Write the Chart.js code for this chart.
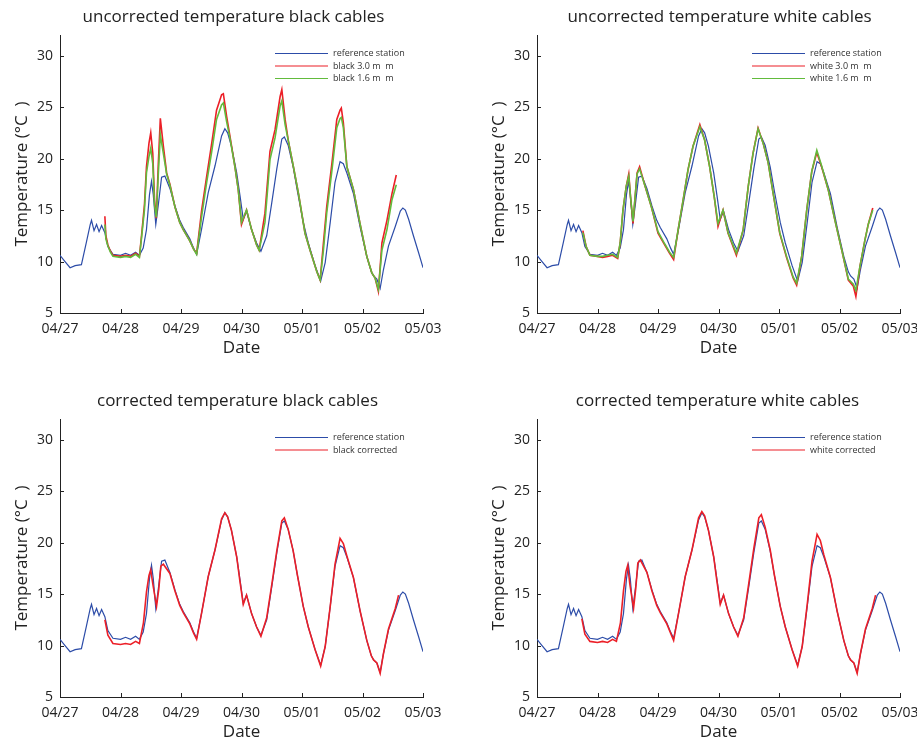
<!DOCTYPE html>
<html>
<head>
<meta charset="utf-8">
<script src="https://cdn.jsdelivr.net/npm/chart.js@4/dist/chart.umd.min.js"></script>
<style>
html,body{margin:0;padding:0;background:#fff;overflow:hidden;width:917px;height:742px;}
canvas{position:absolute;}
</style>
</head>
<body>
<canvas id="c1" width="458" height="371" style="left:0;top:0"></canvas>
<canvas id="c2" width="440" height="371" style="left:477px;top:0"></canvas>
<canvas id="c3" width="458" height="371" style="left:0;top:384px"></canvas>
<canvas id="c4" width="440" height="371" style="left:477px;top:384px"></canvas>
<script>
// ---- data (hours since 04/27 00:00, temperature in °C) ----
const tickLabels = ['04/27','04/28','04/29','04/30','05/01','05/02','05/03'];
const xTickHours = [0,24,48,72,96,120,144];
const yTickValues = [5,10,15,20,25,30];

const refHours = [0,2,4,6,8.5,10.5,12,12.5,13.5,14.5,15.5,16.5,17.8,19,21,24,26,28,30,31.5,33,34.3,35.5,36.3,37,38,39,40.3,41.6,43.6,45.6,47.5,48.9,51.5,53,54.2,56.2,58.8,61.5,64.1,65.4,66.5,68,70.1,71.4,72.7,74,76,78,79.7,82,84,86,88,89,90.5,92.5,94.2,96.5,98.5,101.2,103.4,105.2,107.2,109.1,111.1,112.4,113.8,116.4,119.1,121.7,123.5,124.4,125.7,127,128.3,130.3,133,135,136,137,138.3,140.2,142.2,144];
const refTemp = [10.6,10.0,9.4,9.6,9.7,11.9,13.6,14.0,13.0,13.6,12.9,13.5,12.8,11.45,10.7,10.6,10.8,10.6,10.9,10.6,11.3,13.1,16.5,17.8,16.5,13.6,15.5,18.2,18.3,17.1,15.4,14.0,13.3,12.2,11.3,10.7,13.2,16.7,19.3,22.2,22.9,22.5,21.2,18.6,16.4,14.1,14.9,13.1,11.8,11.0,12.5,15.7,19.0,21.9,22.1,21.3,19.2,16.8,13.8,11.8,9.6,8.1,9.9,13.8,17.7,19.7,19.5,18.6,16.6,13.3,10.5,9.0,8.6,8.3,7.4,9.2,11.5,13.4,14.9,15.2,15.0,14.1,12.5,10.9,9.4];

const blackHours = [17.8,18.2,19,20,21,24,26,28,30,31.5,32.3,33.5,34.3,35.3,36,36.8,37.5,38.2,39,39.8,41,42.3,43.6,45.6,47.5,48.9,51.5,53,54.2,56.2,58.2,60.2,62.1,64.1,64.8,66.1,67.4,69.4,70.7,72,74,76,78,79,81.3,83.3,85.3,87.3,88,89.3,90.6,92.6,94.6,97.2,99.2,101.9,103.2,104.5,105.8,107.9,109.8,111.1,111.6,112.4,113.8,116.4,119,121.7,123.7,125,126.3,127.7,129.7,131.7,133.4];
const black30 = [14.4,12.5,11.6,11.0,10.6,10.5,10.6,10.5,10.8,10.5,12.4,15.5,19.2,21.5,22.5,20.5,16.0,14.2,19.5,23.9,21.2,18.6,17.5,15.3,13.8,13.1,12.0,11.2,10.8,15.0,18.3,21.5,24.7,26.2,26.3,24.1,22.2,19.2,17.0,13.6,15.0,13.1,11.6,11.1,14.7,20.7,22.8,26.0,26.7,23.8,21.7,19.2,16.6,12.75,11.1,9.0,8.2,11.8,15.3,19.6,23.8,24.7,24.9,23.5,19.2,17.0,13.7,10.5,8.9,8.4,7.1,11.8,14.0,16.6,18.4];
const black16 = [13.6,12.2,11.5,10.9,10.5,10.4,10.5,10.4,10.7,10.4,12.2,15.0,18.6,20.2,21.0,19.5,15.5,14.3,18.5,22.3,20.5,18.5,17.4,15.3,13.8,13.1,12.0,11.2,10.7,14.4,17.7,20.7,23.8,25.2,25.4,23.6,22.0,19.2,17.0,13.8,15.0,13.1,11.6,11.1,13.8,19.9,22.0,25.1,25.6,23.3,21.7,19.2,16.6,12.75,11.1,9.0,8.2,11.1,14.7,18.9,23.0,23.9,24.0,23.0,19.2,17.0,13.7,10.5,8.9,8.4,7.3,11.1,13.1,16.0,17.45];

const whiteHours = [18.2,19.5,21,24,26,28,30,32,33,34.1,35.4,36.4,37.2,38.1,39,39.7,40.7,42.7,45.4,48,50.7,52.6,54.2,56,58,59.9,61.9,64.6,66.5,68.5,70.3,71.8,73.8,75.8,79.1,81.8,83.8,85.7,87.7,89.7,91.7,93.7,96.3,99,101.6,103,105,107,109,111,112.9,115.5,118.2,120.9,123.5,125.5,126.5,128.1,130.1,131.4,133.2];
const white30 = [13.0,11.45,10.6,10.5,10.4,10.5,10.6,10.3,11.8,15.0,17.3,18.5,16.0,13.7,16.5,18.6,19.2,17.45,15.3,12.75,11.6,10.8,10.2,13.1,16.0,18.9,21.2,23.3,21.8,19.2,16.3,13.4,15.0,12.75,10.6,13.1,17.3,20.5,22.95,21.5,19.6,16.6,12.75,10.4,8.4,7.7,10.5,15.0,18.75,20.6,19.2,17.0,14.0,11.1,8.2,7.6,6.6,9.5,12.1,13.6,15.2];
const white16 = [12.8,11.45,10.6,10.5,10.5,10.6,10.7,10.4,11.8,15.0,17.3,18.3,16.0,13.9,16.5,18.5,19.0,17.45,15.3,12.9,11.7,10.9,10.4,13.1,16.0,18.9,21.2,23.1,21.8,19.2,16.3,13.7,15.0,12.8,10.8,13.1,17.3,20.5,22.9,21.5,19.6,16.6,12.8,10.5,8.5,7.9,10.5,15.0,18.75,20.8,19.3,17.0,14.0,11.1,8.3,7.8,7.2,9.5,12.1,13.6,15.0];

const corrHours = [17.8,19,21,24,26,28,30,31.5,33.1,34.3,35.3,36,36.8,38.3,39.2,40,41,43.6,45.6,47.5,48.9,51.5,53,54.2,56.2,58.8,61.5,64.1,65.4,66.5,68,70.1,71.4,72.7,74,76,78,79.7,82,84,86,88,89,90.5,92.5,94.2,96.5,98.5,101.2,103.4,105.2,107.2,109.1,111.1,112.4,113.8,116.4,119.1,121.7,123.5,124.4,125.7,127,128.3,130.3,133,134.3];
const blackCorr = [12.5,11.0,10.2,10.1,10.2,10.1,10.4,10.2,12.2,15.2,16.8,17.35,16.0,13.8,15.5,17.7,17.9,17.0,15.3,13.9,13.2,12.1,11.2,10.6,13.2,16.7,19.3,22.3,22.9,22.5,21.2,18.6,16.2,14.0,14.9,13.1,11.8,10.9,12.7,15.9,19.2,22.1,22.4,21.3,19.2,16.8,13.8,11.8,9.6,8.0,9.9,13.8,17.9,20.4,19.9,18.7,16.6,13.3,10.5,9.0,8.6,8.3,7.3,9.2,11.6,13.6,14.9];
const whiteCorr = [12.6,11.1,10.4,10.3,10.4,10.3,10.6,10.4,12.2,15.3,17.2,17.8,16.0,13.6,15.6,18.0,18.3,17.1,15.3,13.9,13.2,12.1,11.2,10.5,13.2,16.7,19.3,22.4,23.0,22.6,21.2,18.6,16.2,14.0,14.9,13.1,11.8,10.9,12.7,16.0,19.4,22.4,22.7,21.5,19.3,16.8,13.8,11.8,9.6,8.0,9.9,14.0,18.2,20.8,20.2,18.8,16.6,13.3,10.5,9.0,8.6,8.3,7.3,9.2,11.6,13.6,14.9];

// ---- styling ----
const BLUE = '#2c4ca8', RED = '#ec1f27', GREEN = '#62bb3c', AXIS = '#222222';
const FONT = "'Open Sans', 'DejaVu Sans', sans-serif";

function pts(xs, ys){ return xs.map((x,i)=>({x:x, y:ys[i]})); }

const panels = [
  {id:'c1', padRight:35, titleShift:-8, title:'uncorrected temperature black cables', series:[
    ['reference station', refHours, refTemp, BLUE],
    ['black 3.0 m\u00A0\u00A0m', blackHours, black30, RED],
    ['black 1.6 m\u00A0\u00A0m', blackHours, black16, GREEN]]},
  {id:'c2', padRight:17, titleShift:1, title:'uncorrected temperature white cables', series:[
    ['reference station', refHours, refTemp, BLUE],
    ['white 3.0 m\u00A0\u00A0m', whiteHours, white30, RED],
    ['white 1.6 m\u00A0\u00A0m', whiteHours, white16, GREEN]]},
  {id:'c3', padRight:35, titleShift:-4, title:'corrected temperature black cables', series:[
    ['reference station', refHours, refTemp, BLUE],
    ['black corrected', corrHours, blackCorr, RED]]},
  {id:'c4', padRight:17, titleShift:-1, title:'corrected temperature white cables', series:[
    ['reference station', refHours, refTemp, BLUE],
    ['white corrected', corrHours, whiteCorr, RED]]}
];

const panelDecor = {
  id:'panelDecor',
  afterDraw(chart, args, opts){
    const ctx = chart.ctx, ca = chart.chartArea;
    const xs = chart.scales.x, ys = chart.scales.y;
    ctx.save();
    // inward tick marks
    ctx.strokeStyle = AXIS; ctx.lineWidth = 1;
    ctx.beginPath();
    xs.ticks.forEach(t=>{ const px = Math.round(xs.getPixelForValue(t.value))+0.5;
      ctx.moveTo(px, ca.bottom); ctx.lineTo(px, ca.bottom-4); });
    ys.ticks.forEach(t=>{ const py = Math.round(ys.getPixelForValue(t.value))+0.5;
      ctx.moveTo(ca.left, py); ctx.lineTo(ca.left+4, py); });
    ctx.stroke();
    // title
    ctx.fillStyle = '#222';
    ctx.font = "17px " + FONT;
    ctx.textAlign = 'center'; ctx.textBaseline = 'middle';
    ctx.fillText(opts.title, (ca.left+ca.right)/2 + opts.shift, 17.5);
    // legend
    ctx.font = "9px " + FONT;
    ctx.textBaseline = 'middle'; ctx.textAlign = 'left';
    chart.data.datasets.forEach((ds,i)=>{
      const y = ca.top + 18.5 + 12.5*i;
      const x0 = ca.left + 215;
      ctx.strokeStyle = ds.borderColor; ctx.lineWidth = 1.2;
      ctx.beginPath(); ctx.moveTo(x0, y); ctx.lineTo(x0+53, y); ctx.stroke();
      ctx.fillStyle = '#333';
      ctx.fillText(ds.label, x0+58, y);
    });
    ctx.restore();
  }
};

panels.forEach(p=>{
  const n = p.series.length;
  const datasets = p.series.map((s,i)=>({
    label: s[0], data: pts(s[1], s[2]), borderColor: s[3], backgroundColor: s[3],
    borderWidth: i===0 ? 1.2 : 1.6, pointRadius: 0, tension: 0, fill: false,
    order: n - i
  }));
  new Chart(document.getElementById(p.id), {
    type:'line',
    data:{datasets},
    plugins:[panelDecor],
    options:{
      responsive:false, animation:false, devicePixelRatio:1,
      layout:{padding:{left:0, right:p.padRight, top:35, bottom:0}},
      plugins:{
        legend:{display:false}, tooltip:{enabled:false}, title:{display:false},
        panelDecor:{title:p.title, shift:p.titleShift}
      },
      scales:{
        x:{type:'linear', min:0, max:144,
          afterBuildTicks(s){ s.ticks = xTickHours.map(v=>({value:v})); },
          afterFit(s){ s.height = 58; s.paddingLeft = 0; s.paddingRight = 0; },
          grid:{display:false, drawTicks:false},
          border:{display:true, color:AXIS, width:1},
          ticks:{color:'#222', padding:8, maxRotation:0, autoSkip:false,
            font:{family:FONT, size:14},
            callback:(v)=>{ const k = xTickHours.indexOf(v); return k>=0 ? tickLabels[k] : ''; }},
          title:{display:true, text:'Date', color:'#222',
            font:{family:FONT, size:17, lineHeight:1.2}, padding:{top:0, bottom:13}}
        },
        y:{type:'linear', min:5, max:32,
          afterBuildTicks(s){ s.ticks = yTickValues.map(v=>({value:v})); },
          afterFit(s){ s.width = 60; s.paddingTop = 0; s.paddingBottom = 0; },
          grid:{display:false, drawTicks:false},
          border:{display:true, color:AXIS, width:1},
          ticks:{color:'#222', padding:7, font:{family:FONT, size:14}},
          title:{display:true, text:'Temperature (°C\u00A0\u00A0)', color:'#222',
            font:{family:FONT, size:17, lineHeight:1.2}, padding:{top:12, bottom:0}}
        }
      }
    }
  });
});
</script>
</body>
</html>
